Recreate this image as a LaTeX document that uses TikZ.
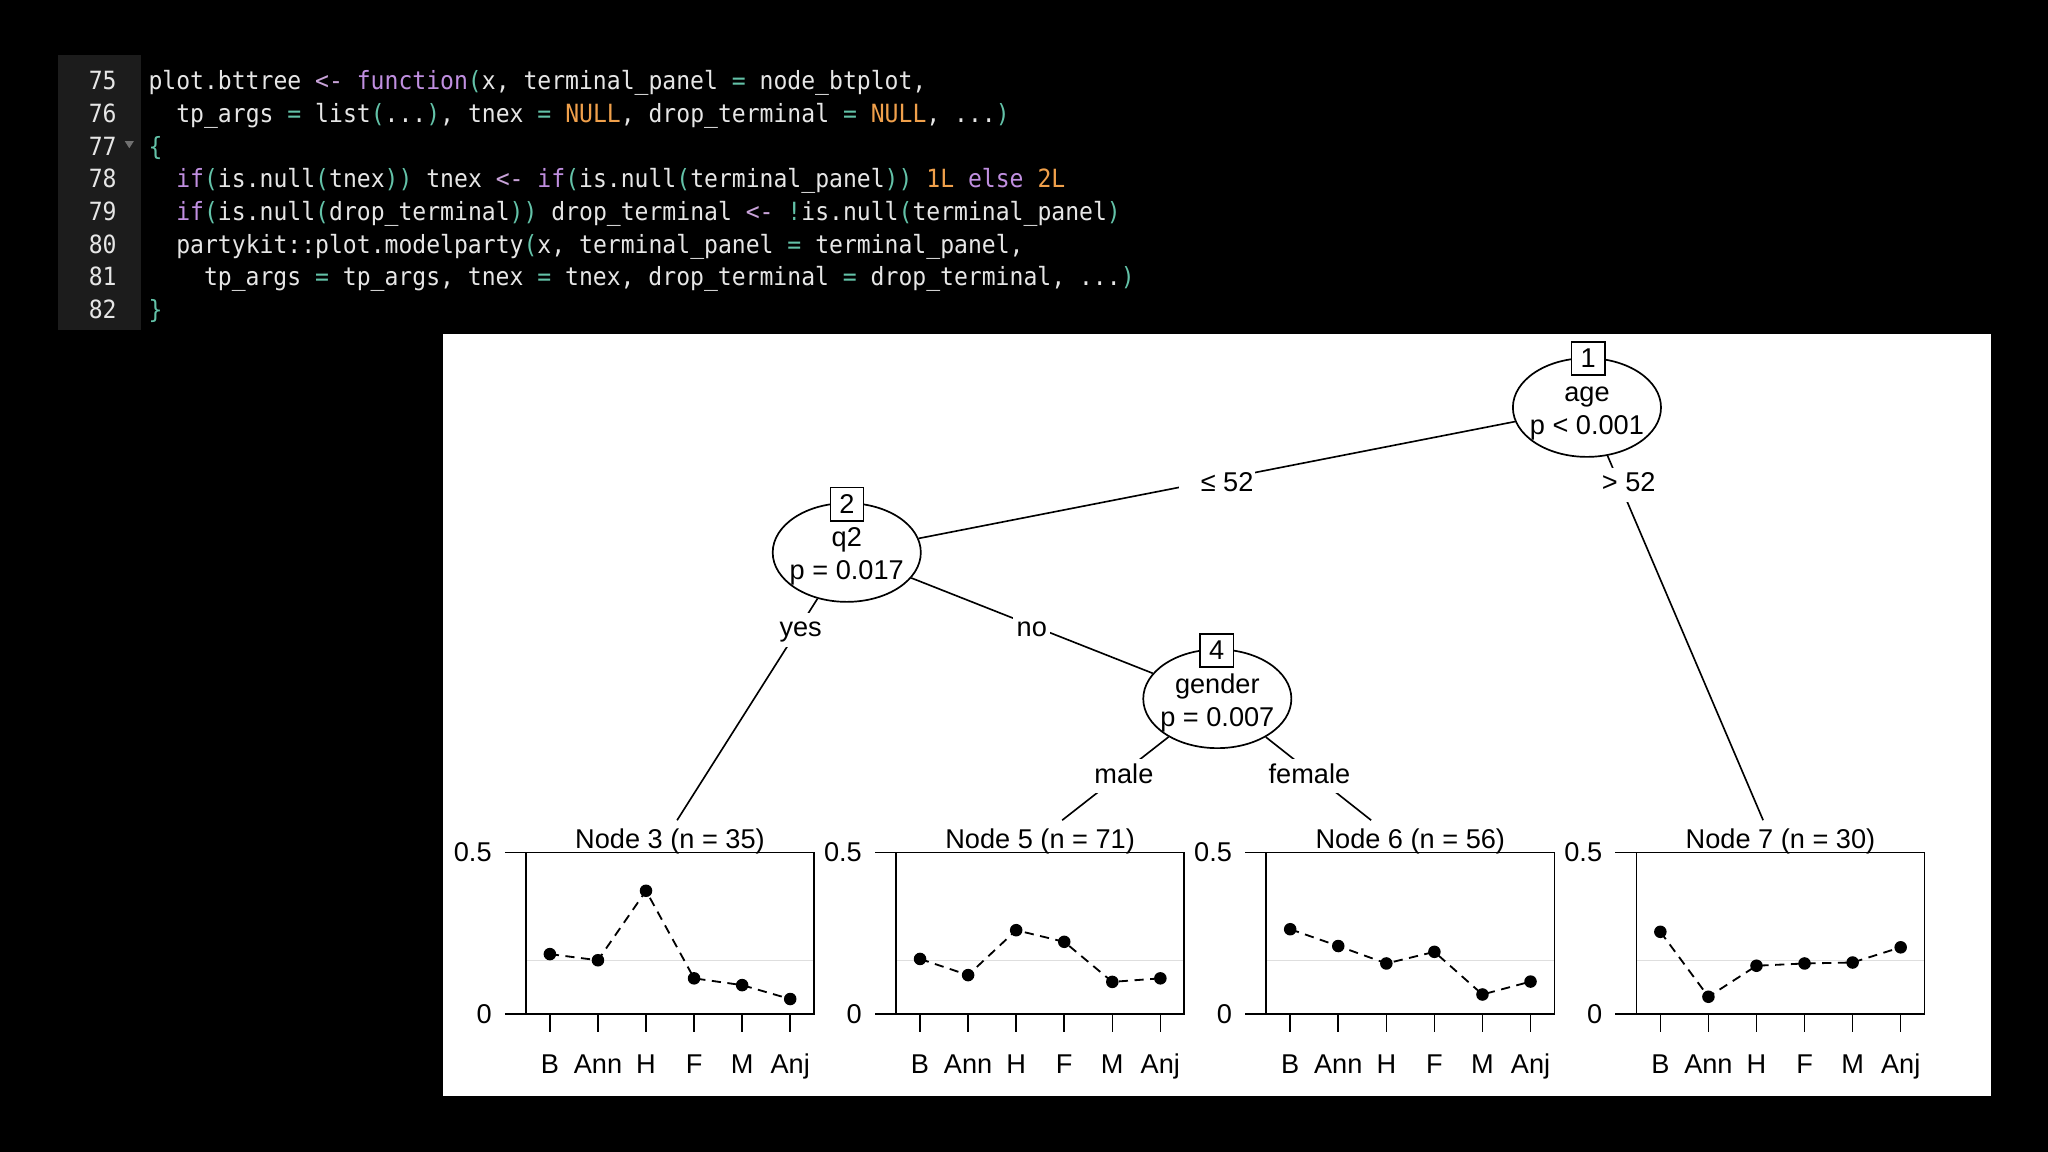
\documentclass[tikz,border=0pt]{standalone}
\usepackage{fontspec}
\setmainfont{Liberation Sans}
\newfontfamily\codefont[FakeStretch=0.92]{DejaVu Sans Mono}
\usetikzlibrary{shapes.geometric}
\definecolor{codefg}{HTML}{E6E6E6}
\definecolor{ckwc}{HTML}{C08FE0}
\definecolor{carrc}{HTML}{C9A3D9}
\definecolor{cpnc}{HTML}{63C2A8}
\definecolor{cnlc}{HTML}{F0A04B}
\definecolor{gutterc}{HTML}{1C1C1C}
\definecolor{foldc}{HTML}{707070}
\definecolor{refgray}{HTML}{DEDEDE}
\newcommand\ckw[1]{\textcolor{ckwc}{#1}}
\newcommand\carr[1]{\textcolor{carrc}{#1}}
\newcommand\cpn[1]{\textcolor{cpnc}{#1}}
\newcommand\cnl[1]{\textcolor{cnlc}{#1}}
\newcommand\treefont{\fontsize{20.8}{25}\selectfont}
\newcommand\btpanel[9]{%
  \draw[refl] (#1,735.3) -- ({#1+220.7},735.3);
  \draw[pbox] (#1,652.8) rectangle ({#1+220.7},776.5);
  \draw[pline] ({#1-16},652.8) -- (#1,652.8);
  \draw[pline] ({#1-16},776.5) -- (#1,776.5);
  \node[ylab] (yh#2) at ({#1-26},652.8) {0.5};
  \node[ylab] (yl#2) at ({#1-26},776.5) {0};
  \node[tt] (title#2) at ({#1+110.35},649.6) {Node #2 (n = #3)};
  \foreach \j/\lab in {0/B,1/Ann,2/H,3/F,4/M,5/Anj}{
    \draw[pline] ({#1+18.4+36.8*\j},776.5) -- ++(0,13.5);
    \node[tt] (x#2\lab) at ({#1+18.4+36.8*\j},821.8) {\lab};
  }
  \coordinate (p#2a) at ({#1+18.4},{776.5-#4*247.4});
  \coordinate (p#2b) at ({#1+55.2},{776.5-#5*247.4});
  \coordinate (p#2c) at ({#1+92.0},{776.5-#6*247.4});
  \coordinate (p#2d) at ({#1+128.8},{776.5-#7*247.4});
  \coordinate (p#2e) at ({#1+165.6},{776.5-#8*247.4});
  \coordinate (p#2f) at ({#1+202.4},{776.5-#9*247.4});
  \draw[dline] (p#2a) -- (p#2b) -- (p#2c) -- (p#2d) -- (p#2e) -- (p#2f);
  \foreach \q in {a,b,c,d,e,f}{\fill (p#2\q) circle (4.8pt);}
}
\begin{document}
\begin{tikzpicture}[x=1pt,y=-1pt,
  codeline/.style={anchor=base west,inner sep=0pt,text=codefg,font=\codefont\fontsize{19.2}{23}\selectfont\frenchspacing},
  lnum/.style={anchor=base east,inner sep=0pt,text=codefg,font=\codefont\fontsize{19.2}{23}\selectfont},
  ell/.style={ellipse,draw,fill=white,minimum width=113.4pt,minimum height=75.6pt,inner sep=0pt,line width=1.3pt},
  numbox/.style={draw,fill=white,minimum width=25.5pt,minimum height=25.5pt,inner sep=0pt,line width=1.2pt,font=\treefont},
  tt/.style={anchor=base,inner sep=0pt,font=\treefont},
  edge/.style={line width=1.25pt},
  elab/.style={fill=white,inner xsep=2.5pt,inner ysep=0pt,minimum height=26pt,text height=15pt,text depth=4.4pt,anchor=base,font=\treefont},
  lblbg/.style={fill=white,inner sep=0pt,minimum height=26pt},
  pbox/.style={line width=1.2pt},
  pline/.style={line width=1.2pt},
  refl/.style={refgray,line width=1.1pt},
  ylab/.style={anchor=east,inner sep=0pt,font=\treefont},
  dline/.style={line width=1.4pt,dash pattern=on 7pt off 5pt}
]
\useasboundingbox (0,0) rectangle (1568,882);
\fill[black] (0,0) rectangle (1568,882);
% code editor
\fill[gutterc] (44.7,42) rectangle (108.1,252.7);
\fill[foldc] (95.5,108) -- (102.5,108) -- (99,113.5) -- cycle;
\node[lnum] (l75) at (89.5,68.9) {75};
\node[lnum] (l76) at (89.5,93.9) {76};
\node[lnum] (l77) at (89.5,118.9) {77};
\node[lnum] (l78) at (89.5,143.9) {78};
\node[lnum] (l79) at (89.5,168.9) {79};
\node[lnum] (l80) at (89.5,193.9) {80};
\node[lnum] (l81) at (89.5,218.9) {81};
\node[lnum] (l82) at (89.5,243.9) {82};
\node[codeline] (c75) at (113.5,68.9) {plot.bttree \carr{<-} \ckw{function}\cpn{(}x, terminal\_panel \cpn{=} node\_btplot,};
\node[codeline] (c76) at (134.8,93.9) {tp\_args \cpn{=} list\cpn{(}...\cpn{)}, tnex \cpn{=} \cnl{NULL}, drop\_terminal \cpn{=} \cnl{NULL}, ...\cpn{)}};
\node[codeline] (c77) at (113.5,118.9) {\cpn{\{}};
\node[codeline] (c78) at (134.8,143.9) {\ckw{if}\cpn{(}is.null\cpn{(}tnex\cpn{))} tnex \carr{<-} \ckw{if}\cpn{(}is.null\cpn{(}terminal\_panel\cpn{))} \cnl{1L} \ckw{else} \cnl{2L}};
\node[codeline] (c79) at (134.8,168.9) {\ckw{if}\cpn{(}is.null\cpn{(}drop\_terminal\cpn{))} drop\_terminal \carr{<-} \cpn{!}is.null\cpn{(}terminal\_panel\cpn{)}};
\node[codeline] (c80) at (134.8,193.9) {partykit::plot.modelparty\cpn{(}x, terminal\_panel \cpn{=} terminal\_panel,};
\node[codeline] (c81) at (156.0,218.9) {tp\_args \cpn{=} tp\_args, tnex \cpn{=} tnex, drop\_terminal \cpn{=} drop\_terminal, ...\cpn{)}};
\node[codeline] (c82) at (113.5,243.9) {\cpn{\}}};
% plot panel
\fill[white] (339.5,256) rectangle (1524,839.2);
% inner nodes
\node[ell] (n1) at (1215,312) {};
\node[ell] (n2) at (648.3,423) {};
\node[ell] (n4) at (932,535) {};
\coordinate (t3) at (518.4,628);
\coordinate (t5) at (813.2,628);
\coordinate (t6) at (1049.8,628);
\coordinate (t7) at (1349.9,628);
\draw[edge] (n1) -- (n2);
\draw[edge] (n1) -- (t7);
\draw[edge] (n2) -- (t3);
\draw[edge] (n2) -- (n4);
\draw[edge] (n4) -- (t5);
\draw[edge] (n4) -- (t6);
\node[tt] (n1a) at (1215,307.6) {age};
\node[tt] (n1b) at (1215,333) {p < 0.001};
\node[tt] (n2a) at (648.3,418.6) {q2};
\node[tt] (n2b) at (648.3,444) {p = 0.017};
\node[tt] (n4a) at (932,530.6) {gender};
\node[tt] (n4b) at (932,556) {p = 0.007};
\node[numbox] (b1) at (1216,274.5) {1};
\node[numbox] (b2) at (648.5,386) {2};
\node[numbox] (b4) at (931.5,498) {4};
% edge labels
\node[lblbg,minimum width=58pt] (e12bg) at (932,369.5) {};
\node[tt] (e12) at (939.5,376.5) {≤ 52};
\node[elab] (e17) at (1247,376.5) {> 52};
\node[elab] (e23) at (613,487.5) {yes};
\node[elab] (e24) at (790,487.5) {no};
\node[elab] (e45) at (860.5,599.5) {male};
\node[elab] (e46) at (1002.5,599.5) {female};
% terminal panels
\btpanel{402.6}{3}{35}{0.186}{0.167}{0.382}{0.111}{0.090}{0.047}
\btpanel{686.0}{5}{71}{0.171}{0.121}{0.260}{0.224}{0.100}{0.111}
\btpanel{969.4}{6}{56}{0.263}{0.211}{0.157}{0.193}{0.061}{0.101}
\btpanel{1252.8}{7}{30}{0.255}{0.054}{0.150}{0.157}{0.160}{0.207}
\end{tikzpicture}
\end{document}
